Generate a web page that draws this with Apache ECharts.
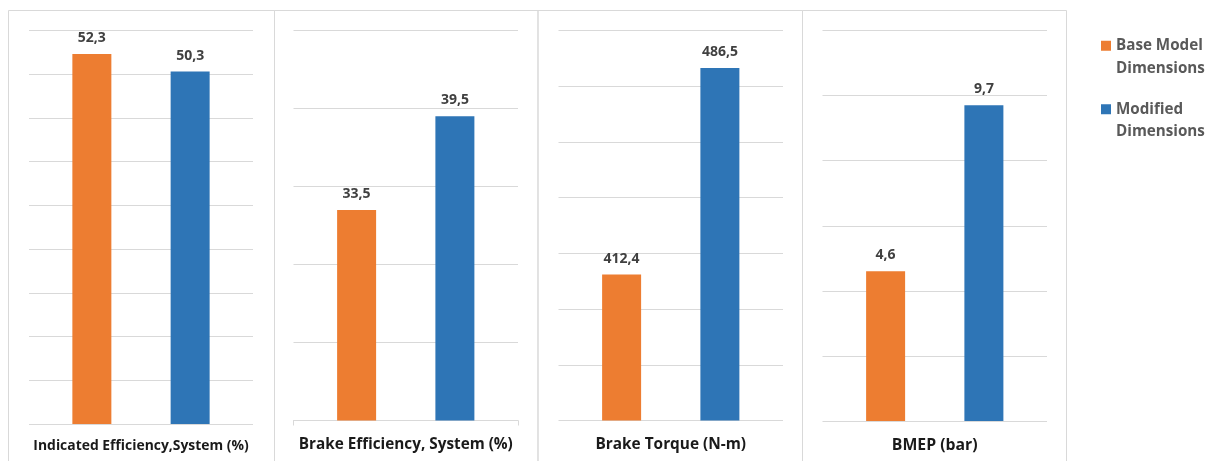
<!DOCTYPE html>
<html>
<head>
<meta charset="utf-8">
<script src="https://cdn.jsdelivr.net/npm/echarts@6/dist/echarts.min.js"></script>
<style>
  html, body { margin: 0; padding: 0; background: #ffffff; }
  #chart { width: 1213px; height: 461px; }
</style>
</head>
<body>
<div id="chart"></div>
<script>
// Engine performance indicators: base model vs modified dimensions
const categories = [
  'Indicated Efficiency,System (%)',
  'Brake Efficiency, System (%)',
  'Brake Torque (N-m)',
  'BMEP (bar)'
];
const seriesNames = ['Base Model Dimensions', 'Modified Dimensions'];
const baseModel = [52.3, 33.5, 412.4, 4.6];
const modified = [50.3, 39.5, 486.5, 9.7];

// value-axis ranges for each panel
const axisMin = [10, 20, 360, 0];
const axisMax = [55, 45, 500, 12];
const axisStep = [5, 5, 20, 2];

// panel layout (pixels)
const gridBoxes = [
  { left: 29,    top: 30.5, width: 224,   height: 393.5, labelMargin: 15, labelSize: 13.9 },
  { left: 293.5, top: 30.5, width: 224.5, height: 390,   labelMargin: 17, labelSize: 15.3 },
  { left: 558.5, top: 30.5, width: 224.5, height: 390,   labelMargin: 17, labelSize: 15.4 },
  { left: 822.5, top: 30.5, width: 224.5, height: 390.5, labelMargin: 16, labelSize: 15.8 }
];
const panelEdges = [8.5, 274.5, 538, 802.5, 1066.5];

const colors = ['#ED7D31', '#2E75B6'];
const FONT = '"Open Sans", Lato, sans-serif';

const fmt = v => v.toFixed(1).replace('.', ',');

const grids = [], xAxes = [], yAxes = [], series = [];
categories.forEach((cat, i) => {
  const g = gridBoxes[i];
  grids.push({ left: g.left, top: g.top, width: g.width, height: g.height, containLabel: false });
  const withAxisLine = i === 1;
  xAxes.push({
    type: 'category',
    gridIndex: i,
    data: [cat],
    axisLine: { show: withAxisLine, lineStyle: { color: '#d9d9d9', width: 1 } },
    axisTick: { show: withAxisLine, length: 5, lineStyle: { color: '#d9d9d9' } },
    axisLabel: {
      margin: g.labelMargin,
      fontFamily: FONT, fontWeight: 'bold', fontSize: g.labelSize, color: '#1a1a1a'
    }
  });
  yAxes.push({
    type: 'value',
    gridIndex: i,
    min: axisMin[i], max: axisMax[i], interval: axisStep[i],
    axisLabel: { show: false },
    axisLine: { show: false },
    axisTick: { show: false },
    splitLine: { lineStyle: { color: '#d9d9d9', width: 1 } }
  });
  [baseModel, modified].forEach((vals, s) => {
    series.push({
      type: 'bar',
      name: seriesNames[s],
      xAxisIndex: i,
      yAxisIndex: i,
      data: [vals[i]],
      barWidth: 39,
      barGap: '152%',
      itemStyle: { color: colors[s] },
      label: {
        show: true,
        position: 'top',
        distance: 9,
        formatter: p => fmt(p.value),
        fontFamily: FONT, fontWeight: 'bold', fontSize: 14, color: '#404040'
      }
    });
  });
});

// panel frames
const frames = [];
for (let i = 0; i < 4; i++) {
  frames.push({
    type: 'rect',
    shape: { x: panelEdges[i], y: 10.5, width: panelEdges[i + 1] - panelEdges[i], height: 470 },
    style: { fill: 'none', stroke: '#d9d9d9', lineWidth: 1 },
    silent: true,
    z: -1
  });
}

const chart = echarts.init(document.getElementById('chart'), null, { renderer: 'canvas' });
chart.setOption({
  backgroundColor: '#ffffff',
  animation: false,
  grid: grids,
  xAxis: xAxes,
  yAxis: yAxes,
  series: series,
  graphic: frames,
  legend: {
    orient: 'vertical',
    left: 1101,
    top: 12,
    padding: 0,
    itemGap: -4,
    icon: 'rect',
    itemWidth: 10,
    itemHeight: 10,
    data: seriesNames,
    // blank first line keeps the marker level with the first text line
    formatter: name => '\n' + name.replace(' Dimensions', '\nDimensions'),
    textStyle: {
      fontFamily: FONT, fontWeight: 'bold', fontSize: 15.2, color: '#595959',
      lineHeight: 22.5
    }
  }
});
</script>
</body>
</html>
